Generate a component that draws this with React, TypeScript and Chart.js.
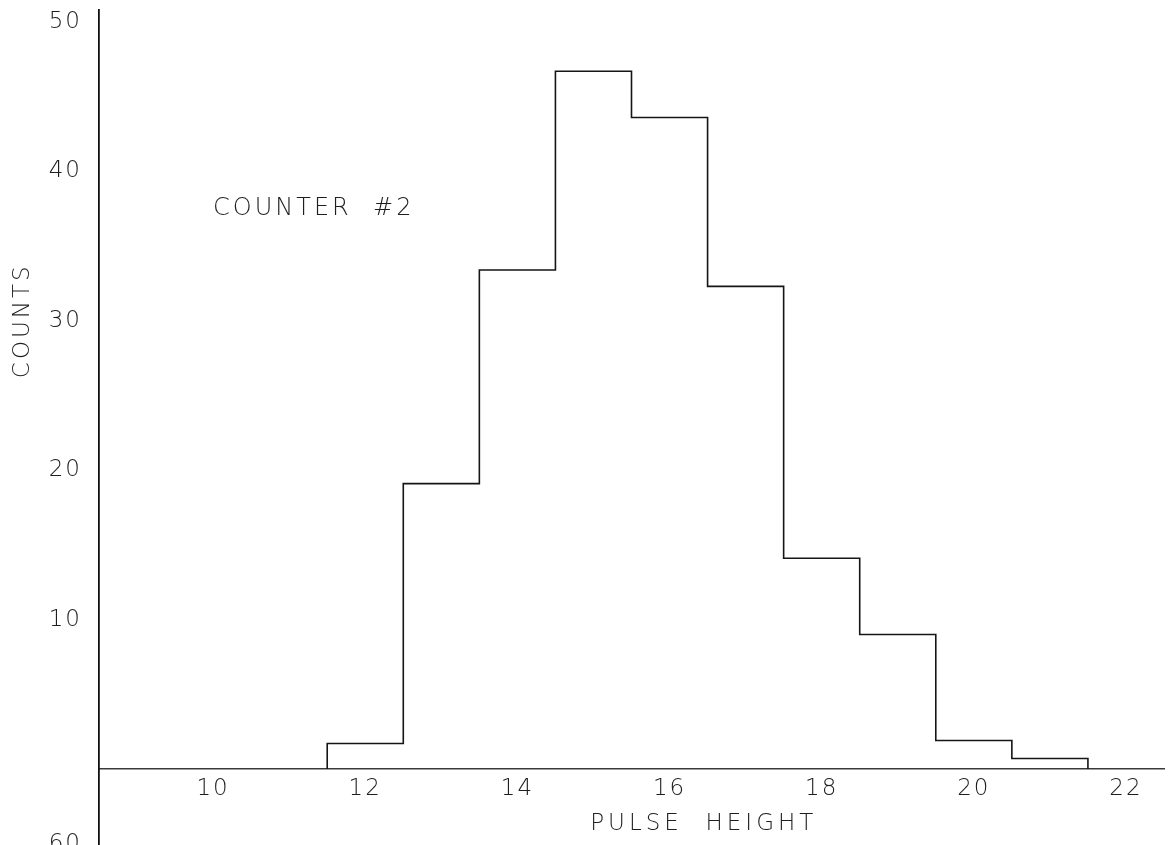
import React, { useEffect, useRef } from "react";
import { Chart, registerables } from "chart.js";

Chart.register(...registerables);

// Pulse-height histogram, one bin per unit of pulse height
const binCenters = [12, 13, 14, 15, 16, 17, 18, 19, 20, 21];
const counts = [1.7, 19.1, 33.4, 46.7, 43.6, 32.3, 14.1, 9.0, 1.9, 0.7];
const binWidth = 1;

const xTicks = [10, 12, 14, 16, 18, 20, 22];
const yTicks = [10, 20, 30, 40, 50];

const xTitle = "PULSE  HEIGHT";
const yTitle = "COUNTS";
const counterLabel = "COUNTER  #2";
const nextPlotLabel = "60";

const FONT_FAMILY = '"DejaVu Sans", "Liberation Sans", sans-serif';
const INK = "#1e1e1e";

// Outline of the histogram: rise at the first edge, flat tops, drop at the last edge
function buildOutline() {
  const pts: { x: number; y: number }[] = [];
  const half = binWidth / 2;
  pts.push({ x: binCenters[0] - half, y: 0 });
  binCenters.forEach((c, i) => {
    pts.push({ x: c - half, y: counts[i] });
    pts.push({ x: c + half, y: counts[i] });
  });
  pts.push({ x: binCenters[binCenters.length - 1] + half, y: 0 });
  return pts;
}

const textPlugin = {
  id: "plotText",
  beforeDraw(chart: any) {
    (chart.ctx as any).letterSpacing = "2px";
  },
  afterDraw(chart: any) {
    const { ctx, scales } = chart;
    const xs = scales.x;
    const ys = scales.y;
    ctx.save();
    ctx.fillStyle = INK;
    ctx.font = `200 24px ${FONT_FAMILY}`;
    (ctx as any).letterSpacing = "3px";

    // label inside the plot
    ctx.textAlign = "left";
    ctx.textBaseline = "middle";
    ctx.fillText(counterLabel, xs.getPixelForValue(10.0), ys.getPixelForValue(37.5));

    // x-axis title
    ctx.font = `200 23px ${FONT_FAMILY}`;
    (ctx as any).letterSpacing = "4px";
    ctx.textAlign = "center";
    ctx.fillText(xTitle, xs.getPixelForValue(16.45), ys.getPixelForValue(0) + 55);

    // y-axis title, rotated
    (ctx as any).letterSpacing = "3px";
    ctx.save();
    ctx.translate(23, ys.getPixelForValue(30));
    ctx.rotate(-Math.PI / 2);
    ctx.textAlign = "center";
    ctx.textBaseline = "middle";
    ctx.fillText(yTitle, 0, 0);
    ctx.restore();

    // top of the next plot's axis label, cut by the page edge
    (ctx as any).letterSpacing = "2px";
    ctx.textAlign = "right";
    ctx.textBaseline = "top";
    ctx.fillText(nextPlotLabel, 82, 833);
    ctx.restore();
    (ctx as any).letterSpacing = "0px";
  },
};

export default function App() {
  const canvasRef = useRef<HTMLCanvasElement | null>(null);

  useEffect(() => {
    if (!canvasRef.current) return;
    const chart = new Chart(canvasRef.current, {
      type: "line",
      data: {
        datasets: [
          {
            data: buildOutline(),
            borderColor: "#151515",
            borderWidth: 1.6,
            pointRadius: 0,
            fill: false,
            tension: 0,
          },
        ],
      },
      options: {
        responsive: false,
        animation: false,
        events: [],
        layout: { padding: { top: 10, right: 7, bottom: 0, left: 0 } },
        plugins: {
          legend: { display: false },
          tooltip: { enabled: false },
          title: { display: false },
        },
        scales: {
          x: {
            type: "linear",
            position: { y: 0 } as any,
            min: 8.5,
            max: 22.5,
            grid: { display: false, drawTicks: false },
            border: { display: true, color: "#3a3a3a", width: 1.5 },
            afterFit: (scale: any) => {
              scale.paddingLeft = 0;
              scale.paddingRight = 0;
              scale.paddingTop = 0;
              scale.paddingBottom = 0;
            },
            afterBuildTicks: (scale: any) => {
              scale.ticks = xTicks.map((v) => ({ value: v }));
            },
            ticks: {
              color: INK,
              padding: 6,
              maxRotation: 0,
              autoSkip: false,
              font: { family: FONT_FAMILY, size: 23, weight: 200 as any },
            },
          },
          y: {
            type: "linear",
            min: -5.09,
            max: 50.8,
            grid: { display: false, drawTicks: false },
            border: { display: true, color: "#111111", width: 1.8 },
            afterFit: (scale: any) => {
              scale.width = 99;
              scale.paddingTop = 0;
              scale.paddingBottom = 0;
            },
            afterBuildTicks: (scale: any) => {
              scale.ticks = yTicks.map((v) => ({ value: v }));
            },
            ticks: {
              color: INK,
              padding: 17,
              autoSkip: false,
              font: { family: FONT_FAMILY, size: 23, weight: 200 as any },
            },
          },
        },
      },
      plugins: [textPlugin],
    });
    return () => chart.destroy();
  }, []);

  return (
    <div style={{ position: "fixed", left: 0, top: 0, width: 1171, height: 845, background: "#ffffff" }}>
      <canvas ref={canvasRef} width={1171} height={845} style={{ display: "block" }} />
    </div>
  );
}
